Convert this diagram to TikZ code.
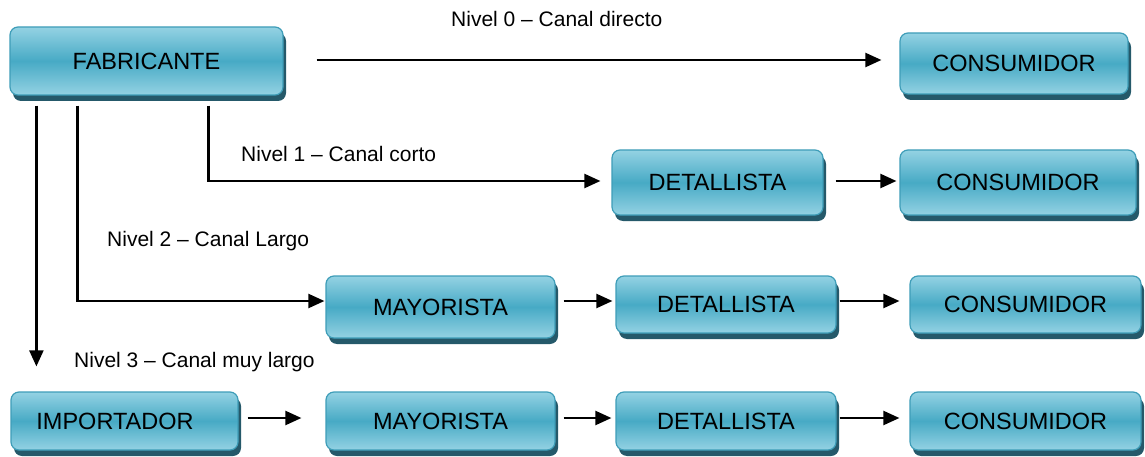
\documentclass[tikz,border=0pt]{standalone}
\usepackage{fontspec}
\setmainfont{Liberation Sans}
\usetikzlibrary{arrows.meta,shadows,calc}
\definecolor{boxtop}{HTML}{94D2E3}
\definecolor{boxmid}{HTML}{47AAC5}
\definecolor{boxedge}{HTML}{3E9DB8}
\definecolor{boxshadow}{HTML}{25596A}
\tikzset{
  box/.style={rounded corners=8pt, draw=boxedge, line width=1.2pt,
    top color=boxtop, bottom color=boxtop, middle color=boxmid,
    general shadow={shadow xshift=3pt, shadow yshift=-6pt, fill=boxshadow, draw=none},
    font=\fontsize{23.5}{28}\selectfont, inner sep=0pt},
  lbl/.style={font=\fontsize{21}{25}\selectfont, inner sep=0pt, anchor=base west},
  arr/.style={line width=2.2pt, -{Triangle[length=16pt,width=14pt]}},
}
\begin{document}
\begin{tikzpicture}[x=1pt,y=-1pt]
\useasboundingbox (0,0) rectangle (1145,457);
% boxes
\node[box, minimum width=273pt, minimum height=68pt] (fab) at (146.5,61) {FABRICANTE};
\node[box, minimum width=228pt, minimum height=61pt] (cons0) at (1014,63.5) {CONSUMIDOR};
\node[box, minimum width=211pt, minimum height=65pt] (det1) at (717.5,182.5) {DETALLISTA};
\node[box, minimum width=236pt, minimum height=65pt] (cons1) at (1018,182.5) {CONSUMIDOR};
\node[box, minimum width=229pt, minimum height=62pt] (may2) at (440.5,307) {MAYORISTA};
\node[box, minimum width=220pt, minimum height=57pt] (det2) at (726,304.5) {DETALLISTA};
\node[box, minimum width=231pt, minimum height=57pt] (cons2) at (1025.5,304.5) {CONSUMIDOR};
\node[box, minimum width=227pt, minimum height=58pt] (imp) at (124.5,421) {IMPORTADOR\hspace*{19pt}};
\node[box, minimum width=229pt, minimum height=58pt] (may3) at (440.5,421) {MAYORISTA};
\node[box, minimum width=220pt, minimum height=58pt] (det3) at (726,421) {DETALLISTA};
\node[box, minimum width=231pt, minimum height=58pt] (cons3) at (1025.5,421) {CONSUMIDOR};
% labels
\node[lbl] (l0) at (451,26.5) {Nivel 0 – Canal directo};
\node[lbl] (l1) at (241,161.5) {Nivel 1 – Canal corto};
\node[lbl] (l2) at (107,246.5) {Nivel 2 – Canal Largo};
\node[lbl] (l3) at (74,367.5) {Nivel 3 – Canal muy largo};
% branch start points
\coordinate (s1) at ($(fab.south west)+(199,10)$);
\coordinate (s2) at ($(fab.south west)+(68,10)$);
\coordinate (s3) at ($(fab.south west)+(27,10)$);
% connectors
\draw[arr, shorten <=33pt, shorten >=18pt] ([yshift=1pt]fab.east) -- ([yshift=1pt]fab.east -| cons0.west);
\draw[arr, shorten >=11pt] (s1) |- ([yshift=1.5pt]det1.west);
\draw[arr, shorten >=1pt] (s2) |- ([yshift=6pt]may2.west);
\draw[arr, shorten >=25pt] (s3) -- (s3 |- imp.north);
\draw[arr, shorten <=12pt, shorten >=3pt] ([yshift=1.5pt]det1.east) -- ([yshift=1.5pt]det1.east -| cons1.west);
\draw[arr, shorten <=8pt, shorten >=3pt] ([yshift=6pt]may2.east) -- ([yshift=6pt]may2.east -| det2.west);
\draw[arr, shorten <=3pt, shorten >=10pt] ([yshift=3.5pt]det2.east) -- ([yshift=3.5pt]det2.east -| cons2.west);
\draw[arr, shorten <=9pt, shorten >=24pt] ([yshift=3pt]imp.east) -- ([yshift=3pt]imp.east -| may3.west);
\draw[arr, shorten <=8pt, shorten >=4pt] ([yshift=3pt]may3.east) -- ([yshift=3pt]may3.east -| det3.west);
\draw[arr, shorten <=3pt, shorten >=10pt] ([yshift=3pt]det3.east) -- ([yshift=3pt]det3.east -| cons3.west);
\end{tikzpicture}
\end{document}
